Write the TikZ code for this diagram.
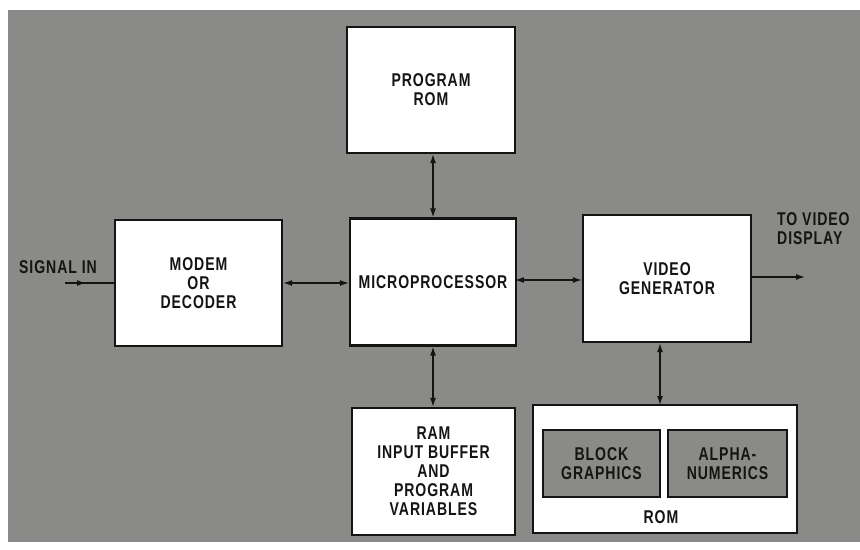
\documentclass[tikz,border=0pt]{standalone}
\usepackage{fontspec}
\setmainfont{Liberation Sans}[FakeStretch=0.76,LetterSpace=5]
\usetikzlibrary{arrows.meta}
\definecolor{bggray}{RGB}{138,138,136}
\definecolor{ink}{RGB}{20,20,18}
\begin{document}
\begin{tikzpicture}[x=1bp,y=-1bp,
  every node/.style={font=\bfseries\fontsize{18.5bp}{19bp}\selectfont, text=ink},
  blockbox/.style={draw=ink, line width=2.2bp, fill=white, align=center, inner sep=0pt},
  innerbox/.style={draw=ink, line width=2.2bp, fill=bggray, align=center, inner sep=0pt},
  link/.style={draw=ink, line width=1.3bp, {Latex[length=9bp,width=6bp]}-{Latex[length=9bp,width=6bp]}},
  oneway/.style={draw=ink, line width=1.3bp, -{Latex[length=9bp,width=6bp]}},
  plain/.style={draw=ink, line width=1.3bp},
  lbl/.style={align=left, inner sep=0pt}
]
\useasboundingbox (0,0) rectangle (860,550);
\fill[white] (0,0) rectangle (860,550);
\fill[bggray] (8,10) rectangle (860,542);

\node[blockbox, minimum width=168bp, minimum height=126bp] (prom) at (431,90) {PROGRAM\\ROM};
\node[blockbox, minimum width=166bp, minimum height=127bp] (micro) at (433,282) {MICROPROCESSOR};
\node[blockbox, minimum width=167bp, minimum height=126bp] (modem) at (198.5,283) {MODEM\\OR\\DECODER};
\node[blockbox, minimum width=168bp, minimum height=127bp] (vg) at (667,278.5) {VIDEO\\GENERATOR};
\node[blockbox, minimum width=163bp, minimum height=127bp] (ram) at (433.5,471.5) {RAM\\INPUT BUFFER\\AND\\PROGRAM\\VARIABLES};
\node[blockbox, minimum width=264bp, minimum height=128bp] (rom) at (665,469) {};
\node[innerbox, minimum width=117bp, minimum height=67bp] (blk) at (601.5,463.5) {BLOCK\\GRAPHICS};
\node[innerbox, minimum width=119bp, minimum height=67bp] (alp) at (727.5,463.5) {ALPHA-\\NUMERICS};
\node[inner sep=0pt] (romlbl) at (661,517) {ROM};

\node[lbl, anchor=base west] (sig) at (19,274) {SIGNAL IN};
\node[lbl, anchor=base west] (tvd) at (777,245) {TO VIDEO\\DISPLAY};

\coordinate (sigstart) at (65,283);
\coordinate (sigmid) at (86,283);
\coordinate (vdend) at (805,277);
\coordinate (romtop) at (660,405);

\draw[plain] (sigstart) -- (modem.west);
\draw[oneway] (sigstart) -- (sigmid);
\draw[link] (prom.south -| micro.north) -- (micro.north);
\draw[link] (micro.south) -- (micro.south |- ram.north);
\draw[link] (modem.east) -- (modem.east -| micro.west);
\draw[link] (micro.west |- 0,280) ++(166,0) -- (vg.west |- 0,280);
\draw[link] (romtop |- vg.south) -- (romtop);
\draw[oneway] (vg.east |- vdend) -- (vdend);
\end{tikzpicture}
\end{document}
